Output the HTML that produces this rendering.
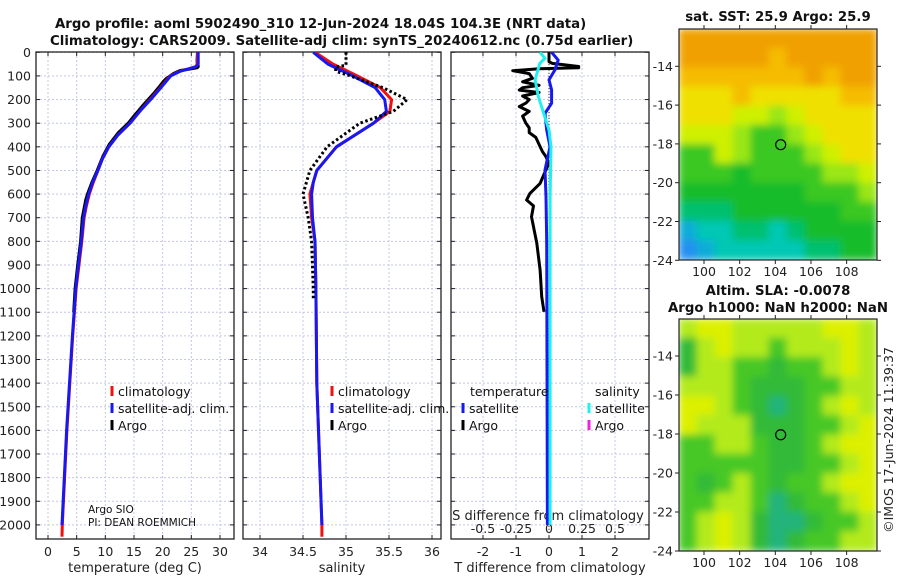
<!DOCTYPE html>
<html><head><meta charset="utf-8">
<style>
html,body{margin:0;padding:0;background:#fff;}
svg{display:block;font-family:"DejaVu Sans","Liberation Sans",sans-serif;}
.tk{font-size:12.5px;fill:#222;}
.tt{font-size:13.3px;font-weight:bold;fill:#111;}
.lg{font-size:12.5px;fill:#111;}
</style></head>
<body>
<svg id="chart" width="900" height="580" viewBox="0 0 900 580" xmlns="http://www.w3.org/2000/svg">
<defs>
<filter id="blur" x="0" y="0" width="1" height="1"><feGaussianBlur stdDeviation="4" edgeMode="duplicate"/></filter>
<clipPath id="clipTop"><rect x="679" y="29" width="198" height="231"/></clipPath>
<clipPath id="clipBot"><rect x="679" y="319" width="198" height="232"/></clipPath>
<clipPath id="clipP1"><rect x="36" y="52" width="198" height="487"/></clipPath>
<clipPath id="clipP2"><rect x="243" y="52" width="198" height="487"/></clipPath>
<clipPath id="clipP3"><rect x="451" y="52" width="198" height="487"/></clipPath>
</defs>
<text class="tt" x="55" y="28">Argo profile: aoml 5902490_310 12-Jun-2024 18.04S 104.3E (NRT data)</text>
<text class="tt" x="50" y="45">Climatology: CARS2009. Satellite-adj clim: synTS_20240612.nc (0.75d earlier)</text>
<text class="tt" x="778" y="21" text-anchor="middle">sat. SST: 25.9 Argo: 25.9</text>
<text class="tt" x="778" y="295" text-anchor="middle">Altim. SLA: -0.0078</text>
<text class="tt" x="778" y="312" text-anchor="middle">Argo h1000: NaN h2000: NaN</text>
<text class="tk" transform="translate(893,440) rotate(-90)" text-anchor="middle">©IMOS 17-Jun-2024 11:39:37</text>
<g id="g"></g>
</svg>
<script>
// ---- data ----
const depthTicks = [0,100,200,300,400,500,600,700,800,900,1000,1100,1200,1300,1400,1500,1600,1700,1800,1900,2000];
const tempTicks = [0,5,10,15,20,25,30];
const salTicks = [34,34.5,35,35.5,36];
const salTickLabels = ["34","34.5","35","35.5","36"];
const tdiffTicks = [-2,-1,0,1,2];
const sdiffTicks = [-0.5,-0.25,0,0.25,0.5];
const sdiffLabels = ["-0.5","-0.25","0","0.25","0.5"];

const climTDepth = [0,50,60,70,80,100,150,200,250,300,350,400,450,500,550,600,650,700,800,900,1000,1200,1400,1600,1800,2000,2050];
const climT = [26.1,26.0,25.8,24.5,23.0,21.3,19.6,17.8,16.0,14.3,12.2,10.6,9.5,8.7,7.9,7.2,6.7,6.3,5.9,5.4,4.9,4.3,3.8,3.3,2.9,2.5,2.45];
const satTDepth = [0,50,60,70,80,100,150,200,250,300,350,400,450,500,550,600,650,700,800,900,1000,1200,1400,1600,1800,2000];
const satT = [26.2,26.2,25.9,24.6,23.1,21.4,19.7,17.9,16.0,14.3,12.2,10.6,9.5,8.7,7.8,7.1,6.6,6.2,5.8,5.3,4.85,4.25,3.75,3.25,2.85,2.45];
const argoTDepth = [0,40,60,65,78,90,110,125,150,170,200,230,270,300,340,390,440,500,555,600,625,700,800,900,1000,1100];
const argoT = [26.1,26.0,26.2,26.0,23.0,21.9,20.7,20.1,19.3,18.6,17.5,16.4,15.0,14.0,12.3,10.7,9.6,8.6,7.6,6.9,6.6,6.0,5.7,5.2,4.75,4.5];

const climSDepth = [0,50,100,150,200,250,300,400,500,550,600,700,800,1000,1400,2000,2050];
const climS = [34.64,34.85,35.13,35.40,35.53,35.51,35.32,34.89,34.66,34.62,34.58,34.60,34.64,34.65,34.66,34.72,34.72];
const satSDepth = [0,50,100,150,200,250,300,400,500,550,600,700,800,1000,1400,2000];
const satS = [34.62,34.79,35.08,35.34,35.45,35.47,35.32,34.89,34.66,34.62,34.60,34.61,34.64,34.65,34.66,34.72];
const argoSDepth = [0,55,62,80,100,150,200,250,300,400,500,600,700,800,1000,1050];
const argoS = [35.0,35.0,34.88,34.88,35.05,35.43,35.71,35.55,35.16,34.78,34.58,34.50,34.56,34.60,34.62,34.62];

const argoTdiffDepth = [0,40,47,60,65,70,78,90,110,125,140,150,160,170,185,200,215,230,250,270,300,320,340,360,390,420,440,470,500,555,597,625,650,696,808,921,1034,1098];
const argoTdiff = [0,0,0.1,0.9,0.9,-0.3,-1.1,-0.6,-0.5,-0.8,-0.3,-0.8,-0.9,-0.3,-0.8,-0.6,-0.7,-0.9,-0.6,-0.8,-0.7,-0.6,-0.6,-0.4,-0.3,-0.2,-0.1,0,-0.1,-0.27,-0.58,-0.68,-0.47,-0.53,-0.37,-0.27,-0.22,-0.15];
const satTdiffDepth = [0,33,75,117,159,216,258,329,400,498,611,800,2000];
const satTdiff = [0.08,0.28,0.18,0,0.08,0.08,-0.12,-0.07,0.03,-0.12,-0.09,-0.07,-0.05];
const satSdiffDepth = [0,25,47,117,188,258,329,400,611,2000];
const satSdiff = [-0.07,-0.03,-0.07,-0.105,-0.08,-0.04,0,0.015,0.008,0.008];

const latTicks = [-14,-16,-18,-20,-22,-24];
const lonTicks = [100,102,104,106,108];
const argoLon = 104.3, argoLat = -18.04;
const sstRows = ["OOOOOOOOOOO","OOOOOoOOOOO","oooooooOoOO","YYYoYYYYYoo","YYYyyLyYYYY","yyyLGGLyYYY","GGyLGGGLyYY","GGGgGGGGLLy","gggggggGGGL","TTTggggggGG","BCCTTCTgggg","DBCCCCCTTgg"];
const slaRows = ["LYYLLLLLYYL","gLYLLGLLLYL","gLLGGgGGLYL","LLLGgggGGLL","YYLGgTgGLYL","YLLLgggGGLY","GGLLGggGLYY","GGGGGggGGLY","GgGLGgGGLYY","GGLLGTgGGLY","GLYLgTTgGGL","GLYLgTgGGLL"];

// ---- scales ----
const yD = d => 52.3 + d*0.2363;
const xT = t => 48 + t*5.733;
const xS = s => 260 + (s-34)*86;
const xTd = v => 549 + v*33;
const xSd = v => 549 + v*132;
const xLon = l => 704 + (l-100)*17.83;
const yLatTop = l => 66.3 + (-14-l)*19.4;
const yLatBot = l => 356 + (-14-l)*19.5;

const NS = "http://www.w3.org/2000/svg";
const G = document.getElementById('g');
function mk(tag, attrs, parent){const e=document.createElementNS(NS,tag);for(const k in attrs)e.setAttribute(k,attrs[k]);(parent||G).appendChild(e);return e;}
function pts(xs, ys, fx, fy){return xs.map((v,i)=>fx(v).toFixed(1)+','+fy(ys[i]).toFixed(1)).join(' ');}

// ---- profile panels ----
const panels = [
 {x0:36,x1:234,name:'temperature',clip:'clipP1'},
 {x0:243,x1:441,name:'salinity',clip:'clipP2'},
 {x0:451,x1:649,name:'difference',clip:'clipP3'}];
const panelXTicks = [tempTicks.map(xT), salTicks.map(xS), tdiffTicks.map(xTd)];
panels.forEach((p,pi)=>{
  depthTicks.forEach(d=>{
    const l = mk('line',{x1:p.x0,x2:p.x1,y1:yD(d),y2:yD(d),stroke:'#c4c8e4','stroke-width':1,'stroke-dasharray':'2,2'});
    
    
    mk('line',{x1:p.x0,x2:p.x0+4,y1:yD(d),y2:yD(d),stroke:'#222'});
    mk('line',{x1:p.x1-4,x2:p.x1,y1:yD(d),y2:yD(d),stroke:'#222'});
  });
  panelXTicks[pi].forEach(x=>{
    const l = mk('line',{x1:x,x2:x,y1:52,y2:539,stroke:'#c4c8e4','stroke-width':1,'stroke-dasharray':'2,2'});
    
    
    mk('line',{x1:x,x2:x,y1:52,y2:56,stroke:'#222'});
    mk('line',{x1:x,x2:x,y1:535,y2:539,stroke:'#222'});
  });
  const f = mk('rect',{x:p.x0,y:52,width:p.x1-p.x0,height:487,fill:'none',stroke:'#222','stroke-width':1.3});
  
  
});
depthTicks.forEach(d=>{
  const t = mk('text',{x:31,y:yD(d)+4.5,'text-anchor':'end',class:'tk'});
  t.textContent = d;
  
  
});
tempTicks.forEach(v=>{
  const t = mk('text',{x:xT(v),y:556,'text-anchor':'middle',class:'tk'}); t.textContent=v;
  
  
});
salTicks.forEach((v,i)=>{
  const t = mk('text',{x:xS(v),y:556,'text-anchor':'middle',class:'tk'}); t.textContent=salTickLabels[i];
  
  
});
tdiffTicks.forEach(v=>{
  const t = mk('text',{x:xTd(v),y:556,'text-anchor':'middle',class:'tk'}); t.textContent=v;
  
  
});
sdiffTicks.forEach((v,i)=>{
  const t = mk('text',{x:xSd(v),y:533,'text-anchor':'middle',class:'tk'}); t.textContent=sdiffLabels[i];
  
  
});
[[135,'temperature (deg C)','temperature-axis-title'],[342,'salinity','salinity-axis-title'],[550,'T difference from climatology','tdiff-axis-title']].forEach(a=>{
  const t = mk('text',{x:a[0],y:572,'text-anchor':'middle',class:'tk',style:'font-size:13px'}); t.textContent=a[1];
  
  
});
const sdl = mk('text',{x:548,y:520,'text-anchor':'middle',class:'tk',style:'font-size:13px'}); sdl.textContent='S difference from climatology';



// series
function series(dep, vals, fx, color, w, name, clip, dash){
  const a = {points:pts(vals,dep,fx,yD),fill:'none',stroke:color,'stroke-width':w,'stroke-linejoin':'round','clip-path':'url(#'+clip+')'};
  if(dash) a['stroke-dasharray']=dash;
  const l = mk('polyline',a);
  
  
}
series(argoTDepth, argoT, xT, '#000', 3.2, 'argo-temperature-line','clipP1');
series(climTDepth, climT, xT, '#f01010', 3, 'climatology-temperature-line','clipP1');
series(satTDepth, satT, xT, '#1818f0', 3, 'satellite-temperature-line','clipP1');
series(climSDepth, climS, xS, '#f01010', 3, 'climatology-salinity-line','clipP2');
series(satSDepth, satS, xS, '#1818f0', 3, 'satellite-salinity-line','clipP2');
series(argoSDepth, argoS, xS, '#000', 3, 'argo-salinity-line','clipP2','2.5,2.5');
const zl = mk('line',{x1:xTd(0),x2:xTd(0),y1:52,y2:539,stroke:'#333','stroke-dasharray':'1,2'});


series(argoTdiffDepth, argoTdiff, xTd, '#000', 3, 'argo-tdiff-line','clipP3');
series(satTdiffDepth, satTdiff, xTd, '#1818f0', 3, 'satellite-tdiff-line','clipP3');
series(satSdiffDepth, satSdiff, xSd, '#20f0f0', 3, 'satellite-sdiff-line','clipP3');

// legends
function legend(x,y,color,label,name){
  const m = mk('rect',{x:x-1.5,y:y-10,width:3,height:10,fill:color});
  
  
  const t = mk('text',{x:x+6,y:y,class:'lg'}); t.textContent=label;
  
  
}
legend(112,396,'#f01010','climatology','legend-t-climatology');
legend(112,413,'#1818f0','satellite-adj. clim.','legend-t-satellite');
legend(112,430,'#000','Argo','legend-t-argo');
legend(332,396,'#f01010','climatology','legend-s-climatology');
legend(332,413,'#1818f0','satellite-adj. clim.','legend-s-satellite');
legend(332,430,'#000','Argo','legend-s-argo');
legend(463,413,'#1818f0','satellite','legend-diff-t-satellite');
legend(463,430,'#000','Argo','legend-diff-t-argo');
legend(589,413,'#20f0f0','satellite','legend-diff-s-satellite');
legend(589,430,'#f020e0','Argo','legend-diff-s-argo');
const lh1 = mk('text',{x:470,y:396,class:'lg'}); lh1.textContent='temperature';


const lh2 = mk('text',{x:595,y:396,class:'lg'}); lh2.textContent='salinity';


const c1 = mk('text',{x:88,y:513,style:'font-size:10.5px;fill:#111'}); c1.textContent='Argo SIO';


const c2 = mk('text',{x:88,y:526,style:'font-size:10.5px;fill:#111'}); c2.textContent='PI: DEAN ROEMMICH';



// maps
const pal = {O:'#f0a000',o:'#f5bc00',Y:'#f0e000',y:'#cff000',L:'#9ae612',G:'#3ac820',g:'#14bc2c',T:'#00c070',C:'#00c8b4',B:'#10acd8',D:'#2090f0'};
const pal2 = {L:'#b2ea1a',Y:'#dcf000',y:'#c6ee10',G:'#46c826',g:'#30ba38',T:'#22b47a'};
function drawMap(rows, palette, y0, h, clip, yLat, name){
  const grp = mk('g',{'clip-path':'url(#'+clip+')'});
  
  
  const inner = mk('g',{filter:'url(#blur)'},grp);
  const cw = 198/rows[0].length, ch = h/rows.length;
  rows.forEach((r,ri)=>{[...r].forEach((c,ci)=>{
    mk('rect',{x:679+ci*cw-0.5,y:y0+ri*ch-0.5,width:cw+1,height:ch+1,fill:palette[c]},inner);
  });});
  const f = mk('rect',{x:679,y:y0,width:198,height:h,fill:'none',stroke:'#222','stroke-width':1.2});
  
  
  latTicks.forEach(l=>{
    const y=yLat(l);
    mk('line',{x1:675,x2:679,y1:y,y2:y,stroke:'#222'});
    mk('line',{x1:877,x2:881,y1:y,y2:y,stroke:'#222'});
    const t = mk('text',{x:673,y:y+4.5,'text-anchor':'end',class:'tk'}); t.textContent=l;
    
    
  });
  lonTicks.forEach(l=>{
    const x=xLon(l);
    mk('line',{x1:x,x2:x,y1:y0+h,y2:y0+h+4,stroke:'#222'});
    mk('line',{x1:x,x2:x,y1:y0-4,y2:y0,stroke:'#222'});
    const t = mk('text',{x:x,y:y0+h+16,'text-anchor':'middle',class:'tk'}); t.textContent=l;
    
    
  });
  const m = mk('circle',{cx:xLon(argoLon),cy:yLat(argoLat),r:5,fill:'none',stroke:'#000','stroke-width':1.2});
  
  
}
drawMap(sstRows, pal, 29, 231, 'clipTop', yLatTop, 'sst-map');
drawMap(slaRows, pal2, 319, 232, 'clipBot', yLatBot, 'sla-map');
</script>
</body></html>
